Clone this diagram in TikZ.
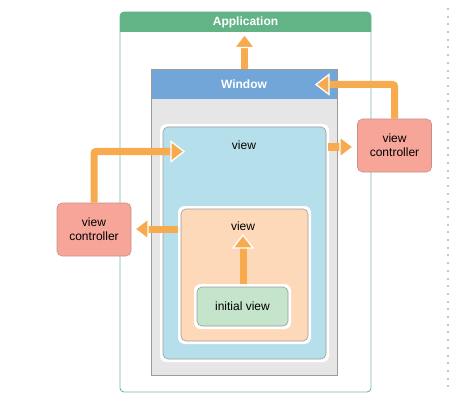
\documentclass[tikz,border=0pt]{standalone}
\usepackage{fontspec}
\setmainfont{Liberation Sans}
\definecolor{appgreen}{HTML}{62B486}
\definecolor{appline}{HTML}{74BBA0}
\definecolor{winblue}{HTML}{72A6D9}
\definecolor{wingray}{HTML}{E6E6E6}
\definecolor{boxgray}{HTML}{9C9C9C}
\definecolor{viewblue}{HTML}{B5DFEA}
\definecolor{peach}{HTML}{FDD9B9}
\definecolor{initgreen}{HTML}{C4E4CB}
\definecolor{vcpink}{HTML}{F7A598}
\definecolor{vcline}{HTML}{C2928A}
\definecolor{arrorange}{HTML}{F8AA4E}
\definecolor{dotgray}{HTML}{C8C8C8}
\tikzset{
  boxtext/.style={font=\fontsize{12}{14}\selectfont, text=black, align=center, inner sep=0pt},
  headtext/.style={font=\fontsize{12}{14}\selectfont\bfseries, text=white, inner sep=0pt},
  viewbox/.style={rectangle, rounded corners=5pt, draw=boxgray, line width=0.6pt, inner sep=0pt},
  whiterim/.style={rectangle, rounded corners=6.5pt, fill=white, inner sep=0pt},
  vcbox/.style={rectangle, rounded corners=5pt, draw=vcline, fill=vcpink, line width=0.6pt, inner sep=0pt,
    minimum width=74pt, minimum height=53pt, font=\fontsize{12}{14}\selectfont, align=center},
  flow/.style={draw=arrorange, line width=7pt, rounded corners=2pt, shorten >=10pt},
  headshape/.style={fill=arrorange, draw=white, line width=1.3pt, line join=miter},
}
\newcommand{\orangehead}[2]{%
  \path[headshape, shift={(#1)}, rotate=#2] (0,0) -- (-13,-10) -- (-13,10) -- cycle;}
\begin{document}
\begin{tikzpicture}[x=1pt,y=-1pt]
\useasboundingbox (0,0) rectangle (463,409);
% dotted separator
\draw[dotgray, line width=2pt, dash pattern=on 2pt off 5.7pt] (448,8) -- (448,393);
% Application
\node[rectangle, rounded corners=4pt, draw=appline, line width=0.9pt, fill=white,
      minimum width=251pt, minimum height=380pt, inner sep=0pt] (app) at (245.5,202) {};
\fill[appgreen] (120,32) [rounded corners=4pt] -- (120,12) -- (371,12) [sharp corners] -- (371,32) -- cycle;
\node[headtext] (apptitle) at (245.5,22) {Application};
% Window
\node[rectangle, draw=boxgray, fill=wingray, line width=0.6pt, minimum width=186pt, minimum height=306pt, inner sep=0pt] (win) at (244,222) {};
\fill[winblue] (151,69) rectangle (337,99);
\draw[boxgray, line width=0.6pt] (151,69) rectangle (337,375);
\node[headtext] (wintitle) at (244,84) {Window};
% outer view
\node[whiterim, minimum width=169pt, minimum height=238pt] (rim1) at (244.5,243) {};
\node[viewbox, fill=viewblue, minimum width=163pt, minimum height=232pt] (view1) at (244.5,243) {};
\node[boxtext] (view1t) at (244,145) {view};
% inner view
\node[whiterim, minimum width=133pt, minimum height=138pt] (rim2) at (244.5,275) {};
\node[viewbox, fill=peach, minimum width=127pt, minimum height=132pt] (view2) at (244.5,275) {};
\node[boxtext] (view2t) at (243,226) {view};
% initial view
\node[whiterim, minimum width=97pt, minimum height=45pt] (rim3) at (242.5,306.5) {};
\node[viewbox, fill=initgreen, minimum width=91pt, minimum height=39pt, font=\fontsize{12}{14}\selectfont] (init) at (242.5,306.5) {initial view};
% view controllers
\node[vcbox] (rvc) at (394.5,145.5) {view\\controller};
\node[vcbox] (lvc) at (94,229.5) {view\\controller};
% arrow ends
\coordinate (apptip) at (244.5,34.5);
\coordinate (wintip) at (316,84.5);
\coordinate (rvctip) at (353,147);
\coordinate (v1tip) at (184,151.5);
\coordinate (lvctip) at (135,229);
\coordinate (v2tip) at (243,235);
% arrows
\draw[flow] (win.north -| apptip) -- (apptip);
\orangehead{apptip}{90}
\draw[flow] (rvc.north) |- (wintip);
\orangehead{wintip}{180}
\draw[flow] (view1.east |- rvctip) ++(2,0) -- (rvctip);
\orangehead{rvctip}{0}
\draw[flow] (lvc.north) |- (v1tip);
\orangehead{v1tip}{0}
\draw[flow] (view2.west |- lvctip) ++(-3,0) -- (lvctip);
\orangehead{lvctip}{180}
\draw[flow] (init.north -| v2tip) ++(0,-3) -- (v2tip);
\orangehead{v2tip}{90}
\end{tikzpicture}
\end{document}
